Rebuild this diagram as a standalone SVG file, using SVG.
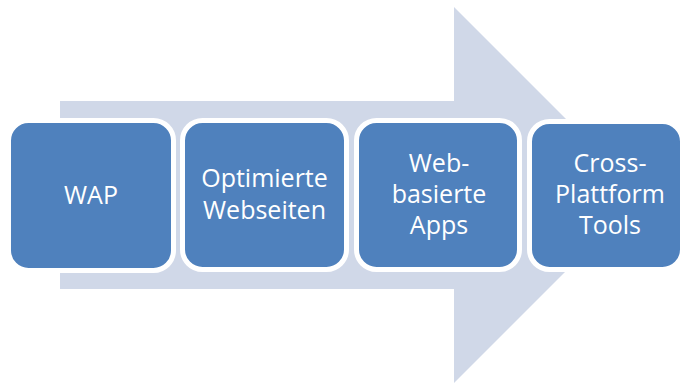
<svg xmlns="http://www.w3.org/2000/svg" width="681" height="383" viewBox="0 0 681 383">
<style>
.box{fill:#4F81BD;stroke:#FFFFFF;stroke-width:5}
.lbl{fill:#FFFFFF;font-family:"Open Sans","Noto Sans",sans-serif;font-size:25px;text-anchor:middle}
</style>
<rect width="681" height="383" fill="#FFFFFF"/>
<g id="arrow">
<polygon points="60,101 454,101 454,7 642,195 454,383 454,289 60,289" fill="#D0D8E8"/>
</g>
<g id="connectors"></g>
<g id="node-wap">
<rect class="box" x="8.5" y="120.5" width="165" height="150" rx="20"/>
<text class="lbl" x="91" y="204">WAP</text>
</g>
<g id="node-optimierte">
<rect class="box" x="182.5" y="120.5" width="164" height="149" rx="20"/>
<text class="lbl" x="264.5" y="187">Optimierte</text>
<text class="lbl" x="264.5" y="219">Webseiten</text>
</g>
<g id="node-webapps">
<rect class="box" x="356.5" y="120.5" width="163" height="149" rx="20"/>
<text class="lbl" x="439" y="172">Web-</text>
<text class="lbl" x="439" y="203">basierte</text>
<text class="lbl" x="439" y="234">Apps</text>
</g>
<g id="node-crossplatform">
<rect class="box" x="529.5" y="121.5" width="153" height="148" rx="20"/>
<text class="lbl" x="610" y="172">Cross-</text>
<text class="lbl" x="610" y="203">Plattform</text>
<text class="lbl" x="610" y="234">Tools</text>
</g>
</svg>
